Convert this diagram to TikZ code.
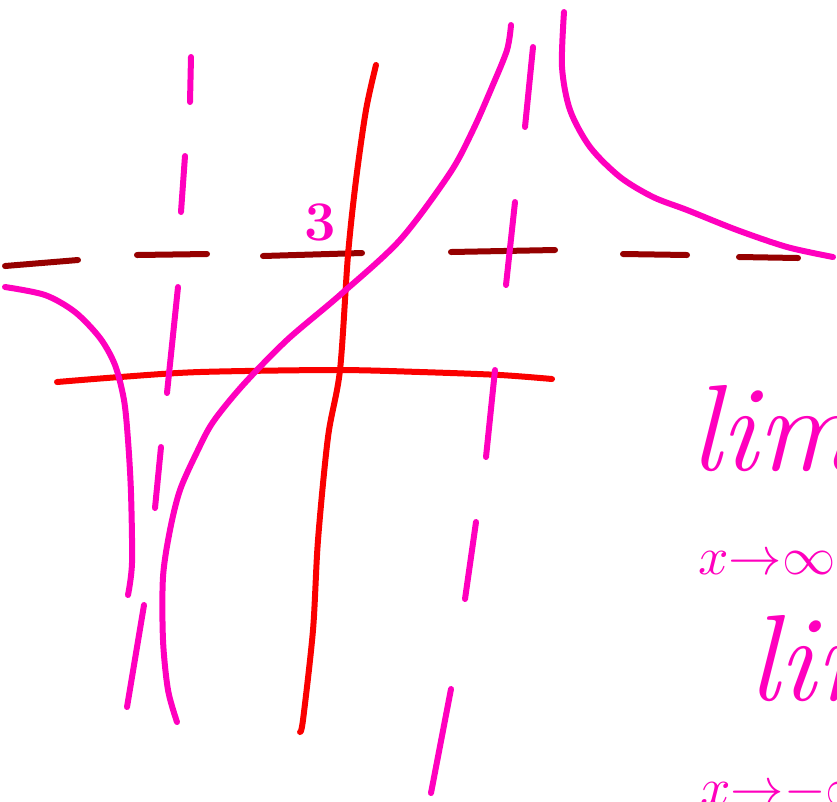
\documentclass[tikz,border=0pt]{standalone}
\usepackage{amsmath}
\definecolor{pinkink}{RGB}{255,0,190}
\definecolor{redink}{RGB}{250,0,0}
\definecolor{darkink}{RGB}{150,0,0}
\tikzset{
  ink/.style={line width=4.5pt, line cap=round, line join=round},
  curveink/.style={ink, pinkink},
  asym/.style={ink, pinkink},
  hasym/.style={ink, darkink},
  axisink/.style={ink, redink},
  hand/.style={pinkink, inner sep=0pt, anchor=base west}
}
\begin{document}
\begin{tikzpicture}[x=0.75pt,y=-0.75pt]
\useasboundingbox (0,0) rectangle (837,801);
\clip (0,0) rectangle (837,801);
\fill[white] (0,0) rectangle (837,801);

% horizontal asymptote (dark red dashes)
\draw[hasym] (5,266) -- (78,260);
\draw[hasym] (137,255) -- (207,254);
\draw[hasym] (263,256) -- (362,253);
\draw[hasym] (451,252) -- (555,250);
\draw[hasym] (623,254) -- (687,255);
\draw[hasym] (739,257) -- (798,258);

% red axes
\draw[axisink] plot[smooth] coordinates {(57,382) (120,377) (200,372) (335,370) (420,372) (500,375) (552,379)};
\draw[axisink] plot[smooth] coordinates {(376,65) (366,110) (356,180) (348,255) (340,370) (328,437) (318,540) (313,630) (303,720) (300,732)};

% vertical asymptote near x=180
\draw[asym] (191,57) -- (190,102);
\draw[asym] (185,156) -- (181,212);
\draw[asym] (178,287) -- (167,393);
\draw[asym] (161,447) -- (155,508);
\draw[asym] (144,605) -- (127,707);

% vertical asymptote near x=510
\draw[asym] (533,47) -- (525,127);
\draw[asym] (515,202) -- (506,285);
\draw[asym] (495,370) -- (486,457);
\draw[asym] (476,522) -- (465,599);
\draw[asym] (451,689) -- (431,793);

% curve branches
\draw[curveink] plot[smooth] coordinates {(5,287) (45,295) (75,312) (100,338) (115,365) (124,400) (128,440) (131,493) (132,563) (128,595)};
\draw[curveink] plot[smooth] coordinates {(177,722) (168,690) (163,640) (163,577) (170,530) (180,490) (197,452) (213,422) (243,385) (287,340) (340,295) (400,240) (450,173) (473,130) (492,87) (507,50) (511,25)};
\draw[curveink] plot[smooth] coordinates {(564,12) (562,67) (570,110) (590,147) (620,177) (653,197) (687,210) (737,230) (787,247) (833,257)};

% labels
\node[pinkink, inner sep=0pt] (three) at (320,222) {\fontsize{42}{42}\selectfont\bfseries 3};
\node[hand] (lim1) at (690,470) {\fontsize{92}{92}\selectfont\itshape lim};
\node[hand] (sub1) at (698,574) {\scalebox{4}{$x{\to}\infty$}};
\node[hand] (lim2) at (748,700) {\fontsize{92}{92}\selectfont\itshape lim};
\node[hand] (sub2) at (700,805) {\scalebox{4}{$x{\to}{-}\infty$}};
\end{tikzpicture}
\end{document}
